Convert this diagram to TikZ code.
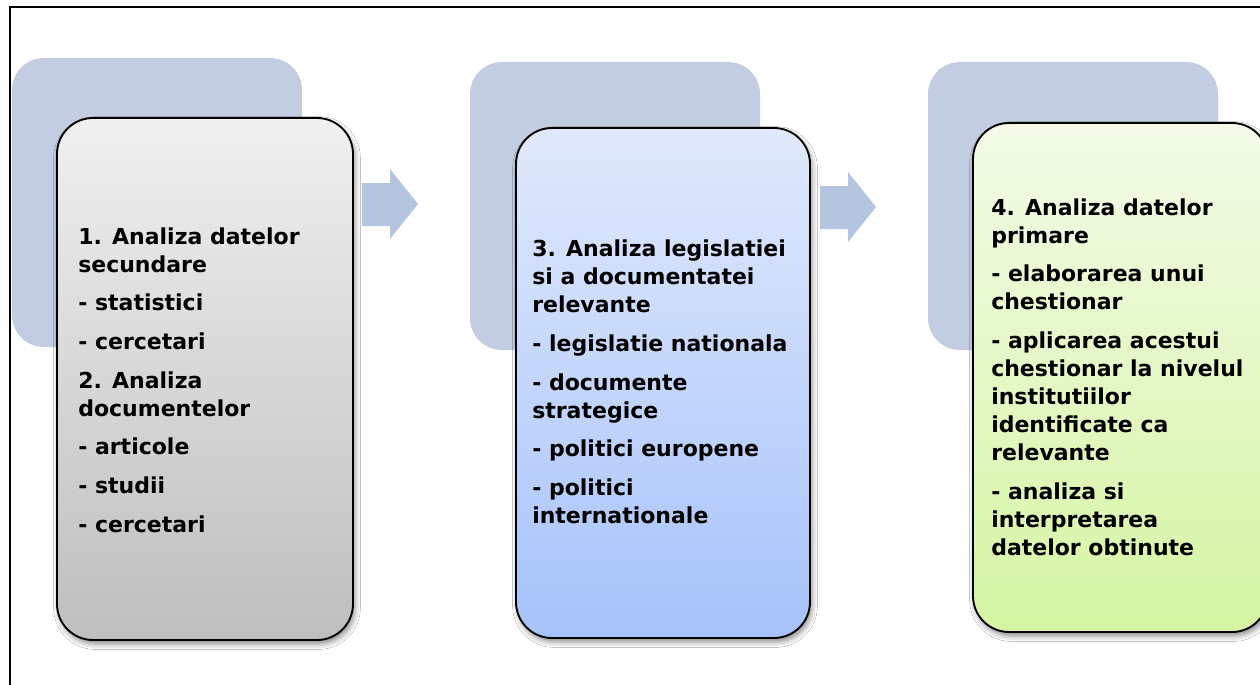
\documentclass[tikz,border=0pt]{standalone}
\usepackage{fontspec}
\newfontfamily\dejav{DejaVu Sans}
\usetikzlibrary{shadows.blur}
\definecolor{backc}{RGB}{194,205,226}
\definecolor{arrc}{RGB}{181,197,224}
\definecolor{gtop}{RGB}{240,240,240}
\definecolor{gbot}{RGB}{190,190,190}
\definecolor{btop}{RGB}{225,234,252}
\definecolor{bbot}{RGB}{166,194,250}
\definecolor{ltop}{RGB}{243,251,232}
\definecolor{lbot}{RGB}{213,245,163}
\tikzset{
  backbox/.style={fill=backc, rounded corners=24pt},
  frontbox/.style={draw=black, line width=1.4pt, rounded corners=27pt,
    blur shadow={shadow xshift=1.5pt, shadow yshift=-3pt, shadow blur radius=4pt, shadow opacity=45}},
  blockarrow/.style={fill=arrc},
  txt/.style={anchor=west, align=left, inner sep=0pt, text=black,
    font=\dejav\bfseries\fontsize{16.5}{21}\selectfont}
}
\begin{document}
\begin{tikzpicture}[x=0.75pt,y=-0.75pt]
\useasboundingbox (0,0) rectangle (1260,685);
\clip (0,0) rectangle (1260,685);
\fill[white] (0,0) rectangle (1260,685);
\draw[line width=1.3pt] (10,700) -- (10,7) -- (1280,7);

% back boxes
\fill[backc, rounded corners=24pt] (12,58) rectangle (302,347);
\fill[backc, rounded corners=24pt] (470,62) rectangle (760,350);
\fill[backc, rounded corners=24pt] (928,62) rectangle (1218,350);

% arrows
\fill[blockarrow] (362,183) -- (390,183) -- (390,169) -- (418,204) -- (390,239) -- (390,226) -- (362,226) -- cycle;
\fill[blockarrow] (820,186) -- (848,186) -- (848,172) -- (876,207) -- (848,242) -- (848,229) -- (820,229) -- cycle;

% front boxes
\path[frontbox, top color=gtop, bottom color=gbot] (57,118) rectangle (353,640);
\path[frontbox, top color=btop, bottom color=bbot] (516,128) rectangle (810,638);
\path[frontbox, top color=ltop, bottom color=lbot] (973,123) rectangle (1268,632);

% texts
\node[txt] (t1) at (78,380) {1. Analiza datelor\\secundare\\[8pt]- statistici\\[8pt]- cercetari\\[8pt]2. Analiza\\documentelor\\[8pt]- articole\\[8pt]- studii\\[8pt]- cercetari};
\node[txt] (t2) at (532,382) {3. Analiza legislatiei\\si a documentatei\\relevante\\[8pt]- legislatie nationala\\[8pt]- documente\\strategice\\[8pt]- politici europene\\[8pt]- politici\\internationale};
\node[txt] (t3) at (991,377) {4. Analiza datelor\\primare\\[8pt]- elaborarea unui\\chestionar\\[8pt]- aplicarea acestui\\chestionar la nivelul\\institutiilor\\identificate ca\\relevante\\[8pt]- analiza si\\interpretarea\\datelor obtinute};
\end{tikzpicture}
\end{document}
